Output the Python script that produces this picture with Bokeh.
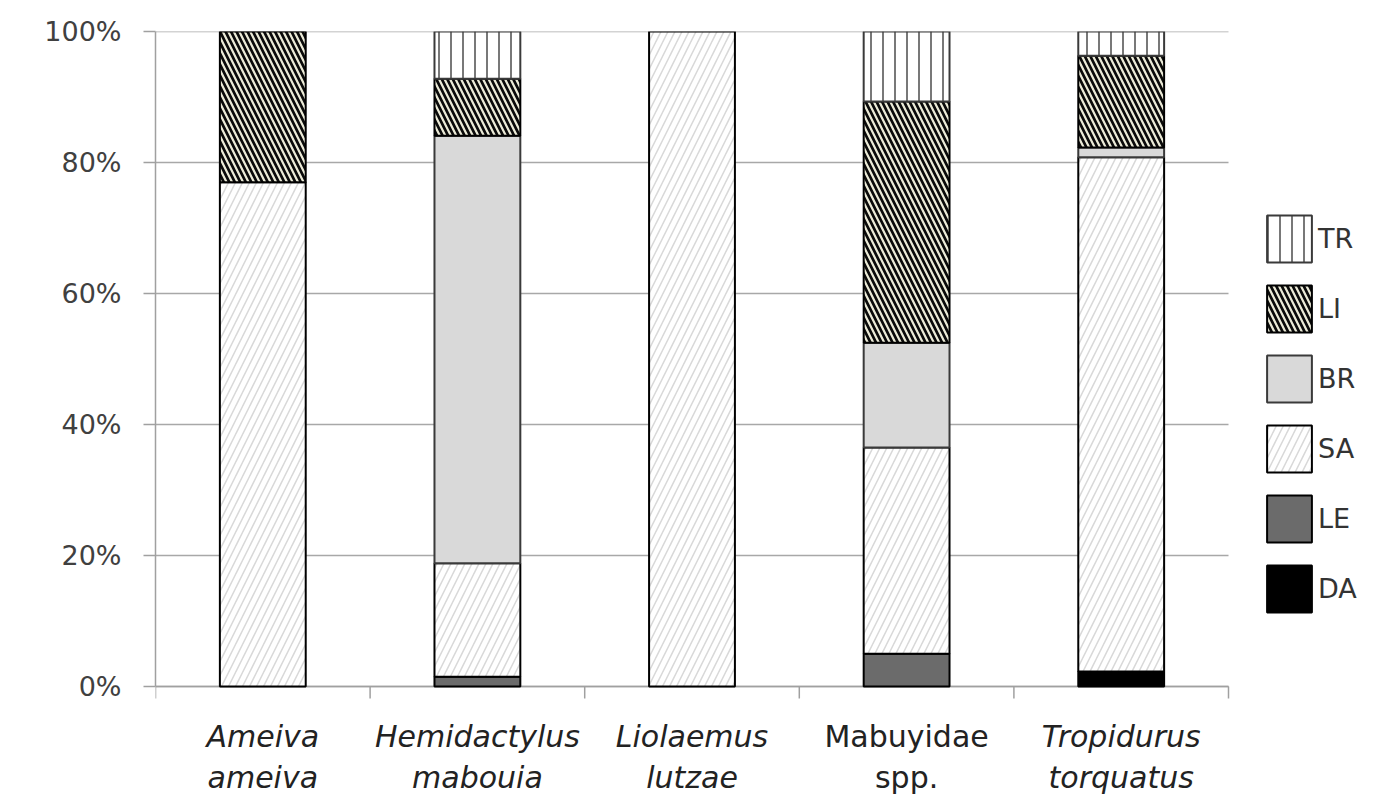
import numpy as np
from bokeh.plotting import figure
from bokeh.models import (Range1d, Legend, LegendItem, FixedTicker,
                          ColumnDataSource)
from bokeh.core.properties import value
from bokeh.embed import file_html
from bokeh.resources import INLINE

# ---- data ----
label_line1 = ["Ameiva", "Hemidactylus", "Liolaemus", "Mabuyidae", "Tropidurus"]
label_line2 = ["ameiva", "mabouia", "lutzae", "spp.", "torquatus"]
label_italic = [True, True, True, False, True]

layer_names = ["DA", "LE", "SA", "BR", "LI", "TR"]   # bottom -> top
DA = [0.0, 0.0, 0.0, 0.0, 2.3]
LE = [0.0, 1.5, 0.0, 5.0, 0.0]
SA = [77.0, 17.3, 100.0, 31.5, 78.5]
BR = [0.0, 65.3, 0.0, 16.0, 1.5]
LI = [23.0, 8.7, 0.0, 36.8, 14.0]
TR = [0.0, 7.2, 0.0, 10.7, 3.7]
layer_values = [DA, LE, SA, BR, LI, TR]

y_ticks = [0, 20, 40, 60, 80, 100]
y_tick_labels = ["0%", "20%", "40%", "60%", "80%", "100%"]

# ---- styles ----
styles = {
    "DA": dict(fill_color="#000000", line_color="#000000"),
    "LE": dict(fill_color="#6b6b6b", line_color="#000000"),
    "SA": dict(fill_color="#ffffff", line_color="#000000", hatch_pattern="/",
               hatch_color="#d8d8d8", hatch_scale=14, hatch_weight=1.5),
    "BR": dict(fill_color="#d9d9d9", line_color="#3a3a3a"),
    "LI": dict(fill_color="#0a0a0a", line_color="#000000", hatch_pattern="\\",
               hatch_color="#ecebd8", hatch_scale=11, hatch_weight=2.2),
    "TR": dict(fill_color="#ffffff", line_color="#3a3a3a", hatch_pattern="|",
               hatch_color="#4a4a4a", hatch_scale=12, hatch_weight=1.5),
}

n = len(label_line1)
xc = np.arange(n) + 0.5

W, H = 1395, 801
left_b, top_b = 155, 31
plot_w, plot_h = 1073, 655              # pixel size of the 0..n / 0..100 area
px = 100.0 / plot_h                     # y data units per pixel
x_right = n * (W - left_b) / plot_w
y_bottom = -(H - top_b - plot_h) * px

p = figure(width=W, height=H, output_backend="svg", toolbar_location=None,
           x_range=Range1d(0, x_right), y_range=Range1d(y_bottom, 100),
           min_border_left=left_b, min_border_right=0,
           min_border_top=top_b, min_border_bottom=0)
p.outline_line_color = None
p.background_fill_color = "#ffffff"
p.border_fill_color = "#ffffff"

p.xgrid.visible = False
p.ygrid.visible = False
p.xaxis.visible = False

p.yaxis.ticker = FixedTicker(ticks=y_ticks)
p.yaxis.bounds = (0, 100)
p.yaxis.major_label_overrides = {t: l for t, l in zip(y_ticks, y_tick_labels)}
p.yaxis.major_label_text_font = "DejaVu Sans"
p.yaxis.major_label_text_font_size = "27px"
p.yaxis.major_label_text_color = "#404040"
p.yaxis.major_label_standoff = 22
p.yaxis.axis_line_color = "#a0a0a0"
p.yaxis.axis_line_width = 1.5
p.yaxis.major_tick_line_color = "#a0a0a0"
p.yaxis.major_tick_line_width = 1.5
p.yaxis.major_tick_in = 0
p.yaxis.major_tick_out = 12
p.yaxis.minor_tick_line_color = None

# horizontal grid lines over the category area
yt = np.array(y_ticks, dtype=float)
p.segment(x0=np.zeros(len(yt)), y0=yt, x1=np.full(len(yt), float(n)), y1=yt,
          line_color="#a8a8a8", line_width=1.5)

# x axis line and category-boundary ticks
bounds_x = np.arange(n + 1, dtype=float)
p.segment(x0=[0.0], y0=[0.0], x1=[float(n)], y1=[0.0],
          line_color="#a0a0a0", line_width=1.5)
p.segment(x0=bounds_x, y0=np.zeros(n + 1), x1=bounds_x,
          y1=np.full(n + 1, -12 * px), line_color="#a0a0a0", line_width=1.5)

renderers = {}
bottom = np.zeros(n)
for name, vals in zip(layer_names, layer_values):
    v = np.array(vals, dtype=float)
    top = bottom + v
    mask = v > 0
    src = ColumnDataSource(dict(x=xc[mask], top=top[mask], bottom=bottom[mask]))
    r = p.vbar(x="x", top="top", bottom="bottom", width=0.4, source=src,
               line_width=2, **styles[name])
    renderers[name] = r
    bottom = top

# category labels (two lines, species names in italic)
for italic_flag, style in ((True, "italic"), (False, "normal")):
    idx = [i for i in range(n) if label_italic[i] == italic_flag]
    for lines, off in ((label_line1, 50), (label_line2, 91)):
        src = ColumnDataSource(dict(x=xc[idx], y=np.full(len(idx), -off * px),
                                    t=[lines[i] for i in idx]))
        p.text(x="x", y="y", text="t", source=src, text_align="center",
               text_baseline="alphabetic", text_font=value("DejaVu Sans"),
               text_font_style=style, text_font_size="30px",
               text_color="#222222")

items = [LegendItem(label=name, renderers=[renderers[name]])
         for name in reversed(layer_names)]
legend = Legend(items=items, location=(1261 - left_b, H - 618),
                orientation="vertical",
                glyph_width=56, glyph_height=59, label_height=59, spacing=11,
                label_standoff=1, padding=0, margin=0,
                border_line_color=None, background_fill_alpha=0,
                label_text_font="DejaVu Sans", label_text_font_size="27px",
                label_text_color="#333333")
p.add_layout(legend)

open("out.html", "w").write(file_html(p, INLINE))
